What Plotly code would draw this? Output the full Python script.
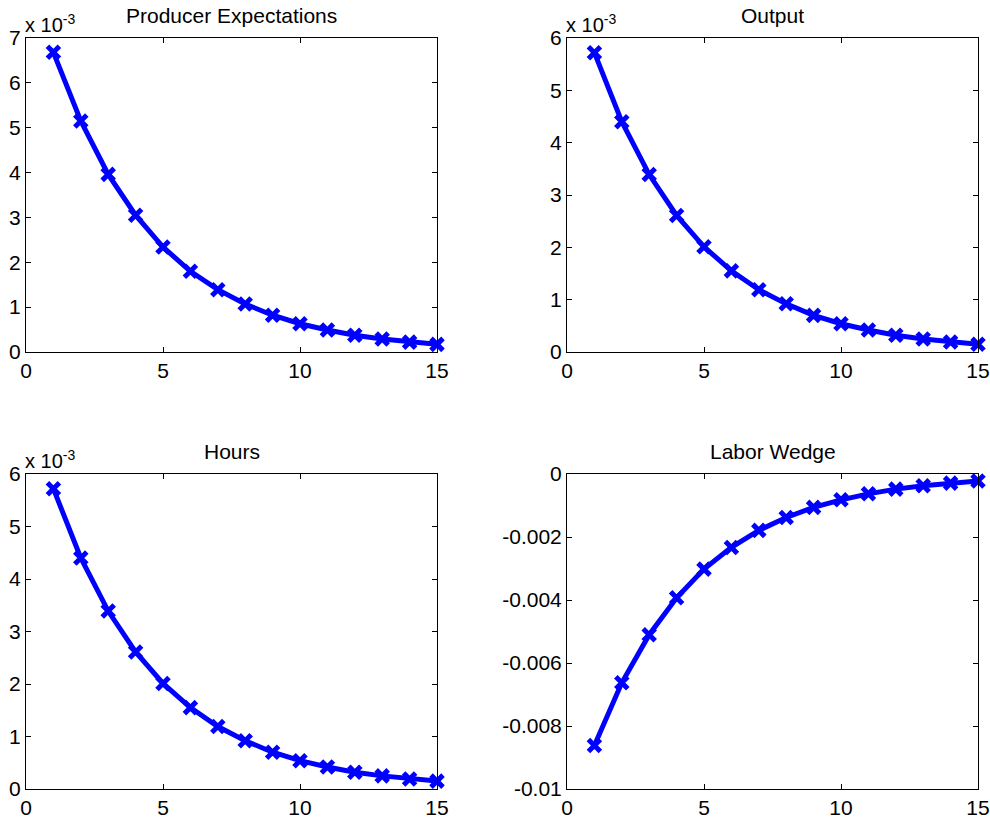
import plotly.graph_objects as go

periods = list(range(1, 16))
producer_expectations = [6.68e-3, 5.15e-3, 3.96e-3, 3.05e-3, 2.34e-3, 1.80e-3, 1.39e-3, 1.07e-3,
                         0.82e-3, 0.63e-3, 0.49e-3, 0.375e-3, 0.29e-3, 0.22e-3, 0.17e-3]
output = [5.72e-3, 4.40e-3, 3.39e-3, 2.61e-3, 2.01e-3, 1.55e-3, 1.19e-3, 0.92e-3,
          0.70e-3, 0.54e-3, 0.42e-3, 0.32e-3, 0.25e-3, 0.19e-3, 0.15e-3]
hours = [5.72e-3, 4.40e-3, 3.39e-3, 2.61e-3, 2.01e-3, 1.55e-3, 1.19e-3, 0.92e-3,
         0.70e-3, 0.54e-3, 0.42e-3, 0.32e-3, 0.25e-3, 0.19e-3, 0.15e-3]
labor_wedge = [-8.62e-3, -6.63e-3, -5.10e-3, -3.93e-3, -3.02e-3, -2.33e-3, -1.79e-3, -1.38e-3,
               -1.06e-3, -0.82e-3, -0.63e-3, -0.48e-3, -0.37e-3, -0.29e-3, -0.22e-3]
titles = ["Producer Expectations", "Output", "Hours", "Labor Wedge"]

x_ticks = [0, 5, 10, 15]
y_ticks_pe = [0, 1, 2, 3, 4, 5, 6, 7]
y_ticks_out = [0, 1, 2, 3, 4, 5, 6]
y_ticks_lw = [0, -0.002, -0.004, -0.006, -0.008, -0.01]
y_ticklabels_lw = ["0", "-0.002", "-0.004", "-0.006", "-0.008", "-0.01"]

W, H = 990, 821
def px_x(p): return p / W
def px_y(p): return 1 - p / H

panels = [
    dict(data=producer_expectations, scale=1e-3, yt=y_ticks_pe, ylab=None, yr=[0, 7],
         dx=[px_x(26), px_x(437)], dy=[px_y(352), px_y(38)]),
    dict(data=output, scale=1e-3, yt=y_ticks_out, ylab=None, yr=[0, 6],
         dx=[px_x(567), px_x(978)], dy=[px_y(352), px_y(38)]),
    dict(data=hours, scale=1e-3, yt=y_ticks_out, ylab=None, yr=[0, 6],
         dx=[px_x(26), px_x(437)], dy=[px_y(789), px_y(474)]),
    dict(data=labor_wedge, scale=1, yt=y_ticks_lw, ylab=y_ticklabels_lw, yr=[-0.01, 0],
         dx=[px_x(567), px_x(978)], dy=[px_y(789), px_y(474)]),
]

fig = go.Figure()
font = dict(family="Liberation Sans, Arial, sans-serif", color="black")
annotations = []
for i, p in enumerate(panels):
    n = "" if i == 0 else str(i + 1)
    yvals = [v / p["scale"] for v in p["data"]]
    fig.add_trace(go.Scatter(
        x=periods, y=yvals, mode="lines+markers",
        line=dict(color="#0000ff", width=5),
        marker=dict(symbol="x-thin-open", size=12, color="#0000ff",
                    line=dict(color="#0000ff", width=5)),
        xaxis="x" + n, yaxis="y" + n, showlegend=False, cliponaxis=False))
    common = dict(showgrid=False, zeroline=False, showline=True, linecolor="black", linewidth=1,
                  mirror="ticks", ticks="inside", ticklen=5, tickcolor="black",
                  automargin=False, tickfont=dict(size=21, **font))
    fig.layout["xaxis" + n] = dict(domain=p["dx"], range=[0, 15], tickvals=x_ticks,
                                   anchor="y" + n, **common)
    ya = dict(domain=p["dy"], range=p["yr"], tickvals=p["yt"], anchor="x" + n, **common)
    if p["ylab"]:
        ya["ticktext"] = p["ylab"]
    fig.layout["yaxis" + n] = ya
    xc = (p["dx"][0] + p["dx"][1]) / 2
    annotations.append(dict(text=titles[i], x=xc, y=p["dy"][1], xref="paper", yref="paper",
                            xanchor="center", yanchor="middle", yshift=23, showarrow=False,
                            font=dict(size=21, **font)))
    if p["scale"] != 1:
        annotations.append(dict(text="x 10<sup>-3</sup>", x=p["dx"][0], y=p["dy"][1],
                                xref="paper", yref="paper", xanchor="left", yanchor="middle",
                                yshift=15, xshift=-3, showarrow=False, font=dict(size=20, **font)))

fig.update_layout(width=W, height=H, margin=dict(l=0, r=0, t=0, b=0),
                  paper_bgcolor="white", plot_bgcolor="white", annotations=annotations)
fig.write_html("out.html", config={"displayModeBar": False},
               post_script="document.body.style.margin='0';document.body.style.overflow='hidden';")
